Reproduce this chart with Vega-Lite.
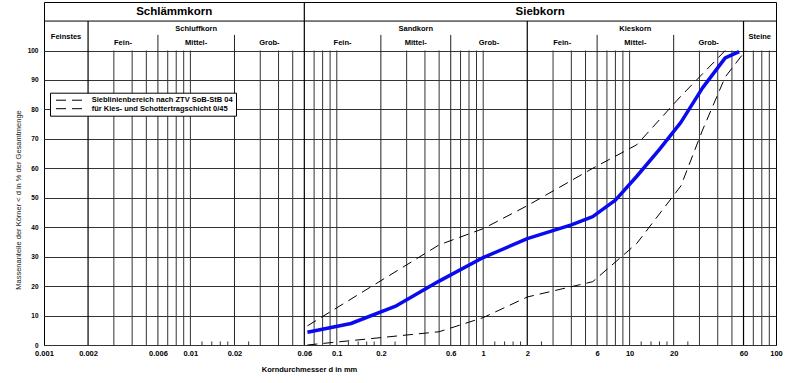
{
  "$schema": "https://vega.github.io/schema/vega-lite/v6.json",
  "width": 732,
  "height": 343,
  "autosize": {"type": "none"},
  "padding": {"left": 44, "top": 2, "right": 24, "bottom": 38},
  "background": "white",
  "config": {
    "view": {"stroke": "black", "strokeWidth": 1},
    "font": "Liberation Sans",
    "axis": {"grid": false, "ticks": false, "domain": false},
    "axisY": {
      "labelFontSize": 6.5,
      "labelFontWeight": "bold",
      "labelColor": "black",
      "labelPadding": 6,
      "grid": true,
      "gridColor": "#333",
      "gridWidth": 1
    }
  },
  "datasets": {
    "grid": [
      {"d": 0.003}, {"d": 0.004}, {"d": 0.005}, {"d": 0.007}, {"d": 0.008}, {"d": 0.009}, {"d": 0.01},
      {"d": 0.03}, {"d": 0.04}, {"d": 0.05}, {"d": 0.07}, {"d": 0.08}, {"d": 0.09}, {"d": 0.1},
      {"d": 0.3}, {"d": 0.4}, {"d": 0.5}, {"d": 0.7}, {"d": 0.8}, {"d": 0.9}, {"d": 1},
      {"d": 3}, {"d": 4}, {"d": 5}, {"d": 7}, {"d": 8}, {"d": 9}, {"d": 10},
      {"d": 30}, {"d": 40}, {"d": 50}, {"d": 70}, {"d": 80}, {"d": 90}
    ],
    "subdiv": [{"d": 0.006}, {"d": 0.02}, {"d": 0.2}, {"d": 0.6}, {"d": 6}, {"d": 20}],
    "major": [{"d": 0.002}, {"d": 2}, {"d": 60}],
    "mainDiv": [{"d": 0.06}],
    "short": [
      {"d": 0.012}, {"d": 0.014}, {"d": 0.016}, {"d": 0.018}, {"d": 0.025},
      {"d": 0.12}, {"d": 0.14}, {"d": 0.16}, {"d": 0.18}, {"d": 0.25},
      {"d": 1.2}, {"d": 1.4}, {"d": 1.6}, {"d": 1.8}, {"d": 2.5},
      {"d": 12}, {"d": 14}, {"d": 16}, {"d": 18}, {"d": 25}
    ],
    "hline": [{"p": 110}],
    "envelope": [
      {"bound": "upper", "d": 0.063, "p": 6.5},
      {"bound": "upper", "d": 0.5, "p": 34},
      {"bound": "upper", "d": 1, "p": 39.5},
      {"bound": "upper", "d": 2, "p": 47.3},
      {"bound": "upper", "d": 5.6, "p": 60},
      {"bound": "upper", "d": 11.2, "p": 68},
      {"bound": "upper", "d": 22.4, "p": 84.5},
      {"bound": "upper", "d": 45, "p": 100},
      {"bound": "lower", "d": 0.063, "p": 0},
      {"bound": "lower", "d": 0.5, "p": 4.5},
      {"bound": "lower", "d": 1, "p": 9.3},
      {"bound": "lower", "d": 2, "p": 16.3},
      {"bound": "lower", "d": 5.6, "p": 21.5},
      {"bound": "lower", "d": 11.2, "p": 34.5},
      {"bound": "lower", "d": 22.4, "p": 54},
      {"bound": "lower", "d": 31.5, "p": 73},
      {"bound": "lower", "d": 45, "p": 91},
      {"bound": "lower", "d": 62, "p": 100}
    ],
    "sieve": [
      {"d": 0.063, "p": 4.3}, {"d": 0.125, "p": 7.3}, {"d": 0.25, "p": 13.1}, {"d": 0.5, "p": 21.7},
      {"d": 1, "p": 29.7}, {"d": 2, "p": 36.1}, {"d": 4, "p": 40.8}, {"d": 5.6, "p": 43.6},
      {"d": 8, "p": 49.2}, {"d": 11.2, "p": 57.3}, {"d": 16, "p": 66.4}, {"d": 22.4, "p": 75.6},
      {"d": 31.5, "p": 87.3}, {"d": 45, "p": 97.5}, {"d": 56, "p": 99.6}
    ],
    "hdrTop": [{"label": "Schlämmkorn", "d": 0.00775}, {"label": "Siebkorn", "d": 2.449}],
    "hdrGroup": [{"label": "Schluffkorn", "d": 0.01095}, {"label": "Sandkorn", "d": 0.3464}, {"label": "Kieskorn", "d": 10.95}],
    "hdrSide": [{"label": "Feinstes", "d": 0.001414}, {"label": "Steine", "d": 77.46}],
    "hdrSub": [
      {"label": "Fein-", "d": 0.003464}, {"label": "Mittel-", "d": 0.01095}, {"label": "Grob-", "d": 0.03464},
      {"label": "Fein-", "d": 0.1095}, {"label": "Mittel-", "d": 0.3464}, {"label": "Grob-", "d": 1.095},
      {"label": "Fein-", "d": 3.464}, {"label": "Mittel-", "d": 10.95}, {"label": "Grob-", "d": 34.64}
    ]
  },
  "layer": [
    {
      "data": {"name": "sieve"},
      "mark": {"type": "line", "color": "#0a0af0", "strokeWidth": 3.5, "opacity": 0},
      "encoding": {
        "x": {
          "field": "d",
          "type": "quantitative",
          "scale": {"type": "log", "domain": [0.001, 100], "nice": false},
          "axis": {
            "values": [0.001, 0.002, 0.006, 0.01, 0.02, 0.06, 0.1, 0.2, 0.6, 1, 2, 6, 10, 20, 60, 100],
            "format": "~g",
            "labelFontSize": 7.5,
            "labelFontWeight": "bold",
            "labelColor": "black",
            "labelPadding": 4,
            "labelOverlap": false,
            "labelFlush": false,
            "title": "Korndurchmesser d in mm",
            "titleFontSize": 7.5,
            "titleFontWeight": "bold",
            "titleColor": "black",
            "titleX": 265,
            "titleY": 24,
            "titleAlign": "center",
            "titleBaseline": "middle"
          }
        },
        "y": {
          "field": "p",
          "type": "quantitative",
          "scale": {"domain": [0, 116.47], "nice": false, "zero": false},
          "axis": {
            "values": [0, 10, 20, 30, 40, 50, 60, 70, 80, 90, 100],
            "labelOverlap": false,
            "title": "Massenanteile der Körner < d in % der Gesamtmenge",
            "titleFontSize": 7.5,
            "titleFontWeight": "normal",
            "titleColor": "#222",
            "titleX": -26,
            "titleY": 197.5,
            "titleAngle": -90,
            "titleAlign": "center",
            "titleBaseline": "middle"
          }
        }
      }
    },
    {
      "data": {"name": "grid"},
      "mark": {"type": "rule", "color": "#333", "strokeWidth": 1},
      "encoding": {
        "x": {"field": "d", "type": "quantitative"},
        "y": {"datum": 0, "axis": {"values": [0, 10, 20, 30, 40, 50, 60, 70, 80, 90, 100]}},
        "y2": {"datum": 100}
      }
    },
    {
      "data": {"name": "subdiv"},
      "mark": {"type": "rule", "color": "#222", "strokeWidth": 1},
      "encoding": {
        "x": {"field": "d", "type": "quantitative"},
        "y": {"datum": 0, "axis": {"values": [0, 10, 20, 30, 40, 50, 60, 70, 80, 90, 100]}},
        "y2": {"datum": 105.3}
      }
    },
    {
      "data": {"name": "short"},
      "mark": {"type": "rule", "color": "#333", "strokeWidth": 1},
      "encoding": {
        "x": {"field": "d", "type": "quantitative"},
        "y": {"datum": 0, "axis": {"values": [0, 10, 20, 30, 40, 50, 60, 70, 80, 90, 100]}},
        "y2": {"datum": 1.2}
      }
    },
    {
      "data": {"name": "major"},
      "mark": {"type": "rule", "color": "black", "strokeWidth": 1.2},
      "encoding": {
        "x": {"field": "d", "type": "quantitative"},
        "y": {"datum": 0, "axis": {"values": [0, 10, 20, 30, 40, 50, 60, 70, 80, 90, 100]}},
        "y2": {"datum": 110}
      }
    },
    {
      "data": {"name": "mainDiv"},
      "mark": {"type": "rule", "color": "black", "strokeWidth": 1.2},
      "encoding": {
        "x": {"field": "d", "type": "quantitative"},
        "y": {"datum": 0, "axis": {"values": [0, 10, 20, 30, 40, 50, 60, 70, 80, 90, 100]}},
        "y2": {"datum": 116.47}
      }
    },
    {
      "data": {"name": "hline"},
      "mark": {"type": "rule", "color": "black", "strokeWidth": 1},
      "encoding": {
        "y": {"field": "p", "type": "quantitative", "axis": {"values": [0, 10, 20, 30, 40, 50, 60, 70, 80, 90, 100]}}
      }
    },
    {
      "data": {"name": "envelope"},
      "mark": {"type": "line", "color": "black", "strokeWidth": 1},
      "encoding": {
        "x": {"field": "d", "type": "quantitative"},
        "y": {"field": "p", "type": "quantitative", "axis": {"values": [0, 10, 20, 30, 40, 50, 60, 70, 80, 90, 100]}},
        "strokeDash": {
          "field": "bound",
          "type": "nominal",
          "scale": {"domain": ["upper", "lower"], "range": [[10, 6], [10, 6]]},
          "legend": {
            "orient": "none",
            "legendX": 6,
            "legendY": 90.7,
            "title": null,
            "labelExpr": "datum.value == 'upper' ? 'Sieblinienbereich nach ZTV SoB-StB 04\u00a0\u00a0\u00a0\u00a0\u00a0\u00a0\u00a0\u00a0\u00a0\u00a0\u00a0\u00a0' : 'für Kies- und Schottertragschicht 0/45'",
            "symbolType": "M-3.375,0H3.375",
            "symbolSize": 64,
            "symbolOffset": 12,
            "symbolStrokeWidth": 1,
            "symbolStrokeColor": "black",
            "labelFontSize": 7.5,
            "labelFontWeight": "bold",
            "labelColor": "black",
            "labelOffset": 17.7,
            "strokeColor": "black",
            "fillColor": "white",
            "padding": 3,
            "rowPadding": 0.5,
            "cornerRadius": 0
          }
        }
      }
    },
    {
      "data": {"name": "sieve"},
      "mark": {"type": "line", "color": "#0a0af0", "strokeWidth": 3.5, "strokeJoin": "round"},
      "encoding": {
        "x": {"field": "d", "type": "quantitative"},
        "y": {"field": "p", "type": "quantitative", "axis": {"values": [0, 10, 20, 30, 40, 50, 60, 70, 80, 90, 100]}}
      }
    },
    {
      "data": {"name": "hdrTop"},
      "mark": {"type": "text", "fontSize": 11.5, "fontWeight": "bold", "color": "black", "baseline": "middle", "align": "center"},
      "encoding": {
        "x": {"field": "d", "type": "quantitative"},
        "y": {"datum": 113.1, "axis": {"values": [0, 10, 20, 30, 40, 50, 60, 70, 80, 90, 100]}},
        "text": {"field": "label"}
      }
    },
    {
      "data": {"name": "hdrGroup"},
      "mark": {"type": "text", "fontSize": 7.5, "fontWeight": "bold", "color": "black", "baseline": "middle", "align": "center"},
      "encoding": {
        "x": {"field": "d", "type": "quantitative"},
        "y": {"datum": 107.3, "axis": {"values": [0, 10, 20, 30, 40, 50, 60, 70, 80, 90, 100]}},
        "text": {"field": "label"}
      }
    },
    {
      "data": {"name": "hdrSide"},
      "mark": {"type": "text", "fontSize": 7.5, "fontWeight": "bold", "color": "black", "baseline": "middle", "align": "center"},
      "encoding": {
        "x": {"field": "d", "type": "quantitative"},
        "y": {"datum": 104.75, "axis": {"values": [0, 10, 20, 30, 40, 50, 60, 70, 80, 90, 100]}},
        "text": {"field": "label"}
      }
    },
    {
      "data": {"name": "hdrSub"},
      "mark": {"type": "text", "fontSize": 7.5, "fontWeight": "bold", "color": "black", "baseline": "middle", "align": "center"},
      "encoding": {
        "x": {"field": "d", "type": "quantitative"},
        "y": {"datum": 102.4, "axis": {"values": [0, 10, 20, 30, 40, 50, 60, 70, 80, 90, 100]}},
        "text": {"field": "label"}
      }
    }
  ]
}
